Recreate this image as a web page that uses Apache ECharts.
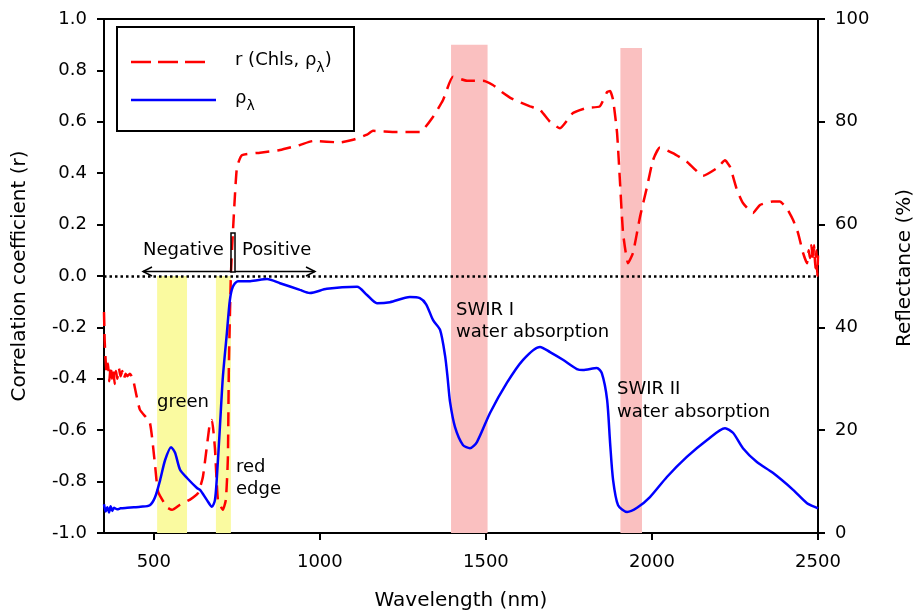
<!DOCTYPE html>
<html>
<head>
<meta charset="utf-8">
<script src="https://cdn.jsdelivr.net/npm/echarts@6/dist/echarts.min.js"></script>
<style>html,body{margin:0;padding:0;background:#fff}#c{width:915px;height:616px}</style>
</head>
<body>
<div id="c"></div>
<script>
// ---- data ----
const xTicks = [500, 1000, 1500, 2000, 2500];
const rNm = [350,352,355,358,362,366,370,374,378,382,386,390,395,400,405,410,415,420,428,437,458,488,504,513,540,555,579,609,633,648,669,675,684,693,708,717,723,726,732,738,750,765,820,880,940,979,1061,1100,1142,1160,1230,1301,1341,1371,1401,1443,1491,1521,1548,1578,1633,1663,1693,1723,1762,1804,1843,1865,1874,1883,1895,1904,1913,1928,1943,1964,1985,2003,2024,2063,2105,2154,2196,2220,2235,2256,2274,2304,2325,2364,2385,2406,2425,2440,2455,2467,2472,2476,2480,2485,2488,2492,2495,2498,2500];
const rVal = [-0.14,-0.25,-0.33,-0.38,-0.34,-0.41,-0.35,-0.40,-0.36,-0.42,-0.37,-0.40,-0.36,-0.39,-0.37,-0.40,-0.38,-0.39,-0.38,-0.40,-0.52,-0.57,-0.74,-0.84,-0.90,-0.91,-0.89,-0.87,-0.845,-0.78,-0.57,-0.56,-0.67,-0.87,-0.91,-0.87,-0.71,-0.35,0.0,0.167,0.42,0.47,0.48,0.49,0.51,0.525,0.52,0.53,0.55,0.565,0.56,0.56,0.62,0.685,0.775,0.76,0.76,0.743,0.716,0.69,0.66,0.646,0.60,0.575,0.634,0.654,0.66,0.716,0.72,0.685,0.556,0.36,0.167,0.05,0.09,0.23,0.346,0.45,0.50,0.478,0.445,0.39,0.42,0.45,0.425,0.335,0.284,0.245,0.276,0.29,0.29,0.264,0.218,0.167,0.09,0.05,0.10,0.07,0.12,0.06,0.12,0.03,0.10,0.0,0.08];
const reflNm = [350,355,360,365,370,375,380,390,400,420,440,460,488,504,519,534,552,564,579,600,630,639,660,675,684,690,699,708,720,729,738,753,790,841,880,940,970,1021,1112,1142,1172,1211,1271,1301,1320,1341,1362,1377,1385,1392,1407,1431,1452,1473,1512,1563,1612,1663,1693,1732,1774,1792,1834,1849,1865,1874,1883,1898,1925,1955,1994,2045,2105,2166,2220,2244,2274,2316,2364,2425,2467,2497,2500];
const reflVal = [5.6,4.2,5.0,4.0,5.2,4.3,4.9,4.6,4.8,4.9,5.0,5.1,5.4,7.0,10.3,14.2,16.7,15.6,12.3,10.7,8.75,8.4,6.4,5.1,6.4,10.9,20.6,30.4,38.9,45.3,47.9,49.0,49.0,49.4,48.6,47.3,46.7,47.5,47.9,46.3,44.7,44.9,45.9,45.7,44.5,41.4,39.5,34.5,30.0,25.5,20.6,17.1,16.5,17.7,23.3,29.2,33.7,36.2,35.2,33.7,31.9,31.7,32.1,31.1,25.9,17.5,10.3,5.4,4.1,4.9,7.0,10.9,14.8,18.1,20.4,19.5,16.5,13.8,11.7,8.4,5.8,4.9,4.8];
// shaded bands: [startNm, endNm, top r]
const greenBand = [510, 600, 0];
const redEdgeBand = [687, 732, 0];
const swir1Band = [1395, 1505, 0.90];
const swir2Band = [1905, 1970, 0.887];

const FONT = 'DejaVu Sans';
const rData = rNm.map((x, i) => [x, rVal[i]]);
const reflData = reflNm.map((x, i) => [x, reflVal[i]]);
const yellow = 'rgb(250,250,160)';
const pink = 'rgb(250,192,192)';
function band(b, color) {
  return [{ xAxis: b[0], yAxis: b[2], itemStyle: { color: color } }, { xAxis: b[1], yAxis: -1 }];
}

const chart = echarts.init(document.getElementById('c'), null, { renderer: 'canvas' });
const axisCommon = {
  axisLine: { show: true, onZero: false, lineStyle: { color: '#000', width: 2 } },
  axisTick: { show: true, inside: false, length: 7, lineStyle: { color: '#000', width: 2 } },
  axisLabel: { color: '#000', fontFamily: FONT, fontSize: 18 },
  splitLine: { show: false },
  nameTextStyle: { color: '#000', fontFamily: FONT, fontSize: 20 }
};
const option = {
  animation: false,
  backgroundColor: '#fff',
  grid: { left: 104, right: 97, top: 19, bottom: 83, containLabel: false, outerBoundsMode: 'none', show: true, borderColor: '#000', borderWidth: 2, backgroundColor: 'transparent' },
  xAxis: Object.assign({}, axisCommon, {
    type: 'value', min: 350, max: 2500,
    name: 'Wavelength (nm)', nameLocation: 'middle', nameGap: 58,
    axisTick: Object.assign({}, axisCommon.axisTick, { customValues: xTicks }),
    axisLabel: Object.assign({}, axisCommon.axisLabel, { customValues: xTicks, margin: 20, formatter: v => String(v) })
  }),
  yAxis: [
    Object.assign({}, axisCommon, {
      type: 'value', min: -1, max: 1, interval: 0.2, position: 'left',
      name: 'Correlation coefficient (r)', nameLocation: 'middle', nameGap: 74,
      axisLabel: Object.assign({}, axisCommon.axisLabel, { margin: 17, formatter: v => v.toFixed(1) })
    }),
    Object.assign({}, axisCommon, {
      type: 'value', min: 0, max: 100, interval: 20, position: 'right',
      name: 'Reflectance (%)', nameLocation: 'middle', nameGap: 77,
      nameTextStyle: Object.assign({}, axisCommon.nameTextStyle, { padding: [0, 0, 0, 16] }),
      axisLabel: Object.assign({}, axisCommon.axisLabel, { margin: 17 })
    })
  ],
  series: [
    {
      name: 'bands', type: 'line', data: [], z: 1, silent: true,
      markArea: { silent: true, itemStyle: { opacity: 1 }, data: [band(greenBand, yellow), band(redEdgeBand, yellow), band(swir1Band, pink), band(swir2Band, pink)] },
      markLine: { silent: true, symbol: ['none', 'none'], label: { show: false }, lineStyle: { color: '#000', type: [2.5, 3], width: 2.5 }, data: [{ yAxis: 0 }] }
    },
    {
      name: 'r', type: 'line', yAxisIndex: 0, data: rData, showSymbol: false, z: 3,
      smooth: 0.15,
      lineStyle: { color: '#ff0000', width: 2.5, type: [14, 8] }
    },
    {
      name: 'refl', type: 'line', yAxisIndex: 1, data: reflData, showSymbol: false, z: 4,
      smooth: 0.25,
      lineStyle: { color: '#0000ff', width: 2.5 }
    }
  ]
};
chart.setOption(option);

// ---- annotations ----
const ctx = document.createElement('canvas').getContext('2d');
function tw(t, size) { ctx.font = size + 'px "' + FONT + '"'; return ctx.measureText(t).width; }
function txt(t, x, y, size) {
  return { type: 'text', z: 50, style: { text: t, x: x, y: y, fill: '#000', fontFamily: FONT, fontSize: size || 18, verticalAlign: 'middle', align: 'left' } };
}
function ln(x1, y1, x2, y2, color, w, dash) {
  return { type: 'line', z: 50, shape: { x1: x1, y1: y1, x2: x2, y2: y2 }, style: { stroke: color, lineWidth: w, lineDash: dash || null } };
}
const g = [];
// legend
g.push({ type: 'rect', z: 40, shape: { x: 117, y: 27, width: 237, height: 104 }, style: { fill: '#fff', stroke: '#000', lineWidth: 2 } });
g.push(ln(131, 62, 208, 62, '#ff0000', 2.5, [20, 7]));
g.push(ln(131, 100, 216, 100, '#0000ff', 2.5));
const l1 = 'r (Chls, ρ';
g.push(txt(l1, 235, 60, 18));
const w1 = tw(l1, 18);
g.push(txt('λ', 235 + w1, 68, 14));
g.push(txt(')', 235 + w1 + tw('λ', 14), 60, 18));
g.push(txt('ρ', 235, 98, 18));
g.push(txt('λ', 235 + tw('ρ', 18), 106, 14));
// negative / positive
g.push(txt('Negative', 143, 250));
g.push(txt('Positive', 242, 250));
g.push({ type: 'rect', z: 50, shape: { x: 231, y: 233, width: 4, height: 39 }, style: { fill: 'none', stroke: '#000', lineWidth: 1.5 } });
g.push(ln(231, 271.5, 143, 271.5, '#000', 1.5));
g.push({ type: 'polyline', z: 50, shape: { points: [[152, 267], [143, 271.5], [152, 276]] }, style: { stroke: '#000', lineWidth: 1.5, fill: 'none' } });
g.push(ln(235, 271.5, 315, 271.5, '#000', 1.5));
g.push({ type: 'polyline', z: 50, shape: { points: [[306, 267], [315, 271.5], [306, 276]] }, style: { stroke: '#000', lineWidth: 1.5, fill: 'none' } });
g.push(txt('green', 157, 402));
g.push(txt('red', 236, 467));
g.push(txt('edge', 236, 489));
g.push(txt('SWIR I', 456, 310));
g.push(txt('water absorption', 456, 332));
g.push(txt('SWIR II', 617, 389));
g.push(txt('water absorption', 617, 412));
chart.setOption({ graphic: g });
</script>
</body>
</html>
